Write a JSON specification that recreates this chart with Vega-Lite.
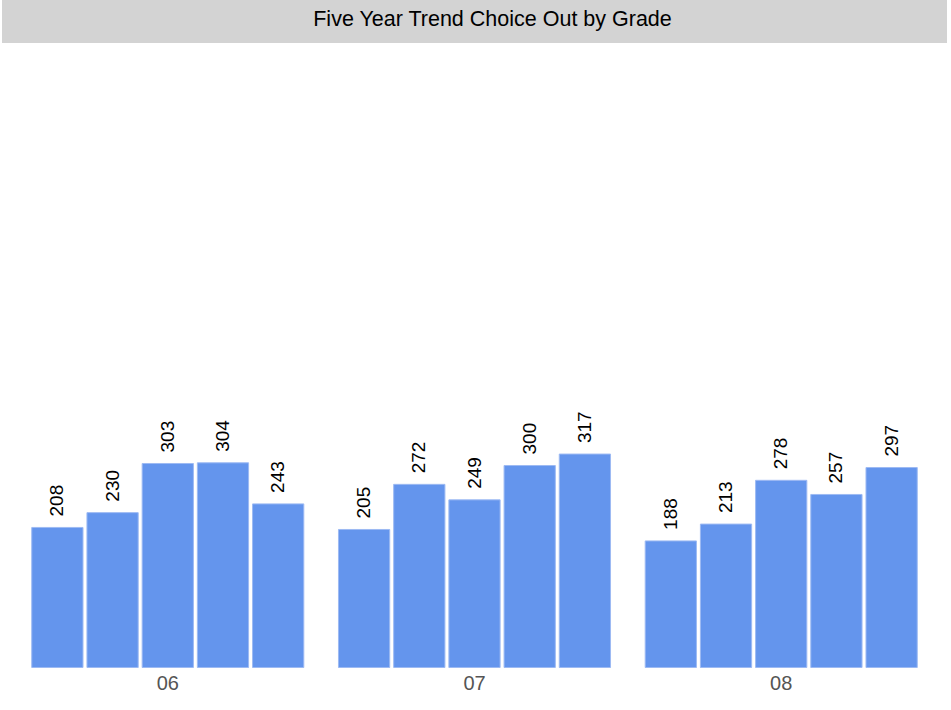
{
  "$schema": "https://vega.github.io/schema/vega-lite/v6.json",
  "padding": {"left": 2, "top": 0, "right": 4, "bottom": 0},
  "background": "#ffffff",
  "config": {"view": {"stroke": null}, "concat": {"spacing": 0}},
  "data": {
    "values": [
      {"grade": "06", "year": "Y1", "count": 208},
      {"grade": "06", "year": "Y2", "count": 230},
      {"grade": "06", "year": "Y3", "count": 303},
      {"grade": "06", "year": "Y4", "count": 304},
      {"grade": "06", "year": "Y5", "count": 243},
      {"grade": "07", "year": "Y1", "count": 205},
      {"grade": "07", "year": "Y2", "count": 272},
      {"grade": "07", "year": "Y3", "count": 249},
      {"grade": "07", "year": "Y4", "count": 300},
      {"grade": "07", "year": "Y5", "count": 317},
      {"grade": "08", "year": "Y1", "count": 188},
      {"grade": "08", "year": "Y2", "count": 213},
      {"grade": "08", "year": "Y3", "count": 278},
      {"grade": "08", "year": "Y4", "count": 257},
      {"grade": "08", "year": "Y5", "count": 297}
    ]
  },
  "vconcat": [
    {
      "width": 945,
      "height": 43,
      "data": {"values": [{}]},
      "view": {"fill": "#d3d3d3", "stroke": null},
      "mark": {"type": "text", "fontSize": 21.5, "font": "Liberation Sans", "color": "#000000", "dx": 18, "dy": -2, "align": "center", "baseline": "middle"},
      "encoding": {"text": {"value": "Five Year Trend Choice Out by Grade"}}
    },
    {
      "width": 945,
      "height": 621,
      "encoding": {
        "x": {
          "field": "grade", "type": "nominal",
          "scale": {"paddingInner": 0.113, "paddingOuter": 0.097},
          "axis": {"title": null, "domain": false, "ticks": false, "labelAngle": 0, "labelFontSize": 20, "labelColor": "#555555", "labelFont": "Liberation Sans", "labelPadding": 9}
        },
        "xOffset": {"field": "year", "type": "nominal", "scale": {"paddingInner": 0.0716, "paddingOuter": 0}},
        "y": {"field": "count", "type": "quantitative", "scale": {"domain": [5.2, 927.5], "nice": false, "zero": false}, "axis": null}
      },
      "layer": [
        {"mark": {"type": "bar", "color": "#6495ED", "stroke": "#9dbaf3", "strokeWidth": 1}},
        {
          "mark": {"type": "text", "angle": 270, "align": "left", "baseline": "middle", "dx": 11, "fontSize": 19, "font": "Liberation Sans", "color": "#000000"},
          "encoding": {"text": {"field": "count", "type": "quantitative"}}
        }
      ]
    }
  ]
}
